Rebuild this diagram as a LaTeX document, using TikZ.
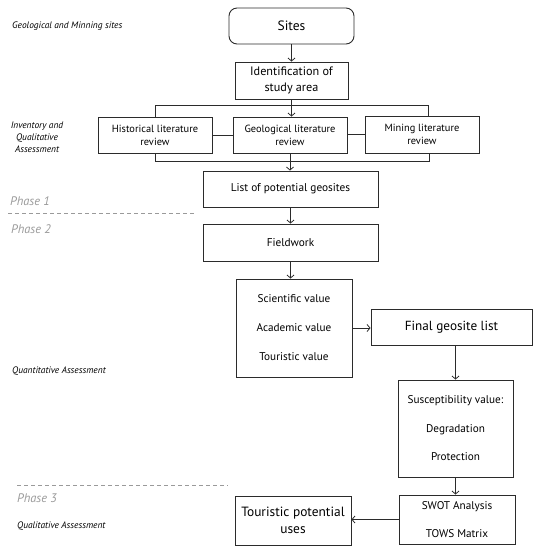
\documentclass[tikz,border=0pt]{standalone}
\usepackage{fontspec}
\setmainfont{PT Sans}
\usetikzlibrary{arrows.meta}
\definecolor{ln}{HTML}{2B2B2B}
\definecolor{ph}{HTML}{9A9A9A}
\tikzset{
  box/.style={draw=ln, line width=0.9pt, rectangle, inner sep=2pt, align=center, font=\fontsize{11.3}{14}\selectfont},
  conn/.style={draw=ln, line width=0.8pt},
  arr/.style={conn, -{Straight Barb[length=3pt,width=7pt]}},
  lab/.style={font=\itshape\fontsize{9.4}{12.2}\selectfont, anchor=west, inner sep=0pt},
  phase/.style={font=\itshape\fontsize{12.4}{14}\selectfont, text=ph, anchor=west, inner sep=0pt},
  sep/.style={draw=ph, dashed, dash pattern=on 4pt off 3pt, line width=0.6pt}
}
\begin{document}
\begin{tikzpicture}[x=1pt,y=-1pt]
\useasboundingbox (0,0) rectangle (539,550);
% boxes
\node[box, rounded corners=8pt, minimum width=125pt, minimum height=36pt, font=\fontsize{13.5}{15}\selectfont] (sites) at (291.5,26) {Sites};
\node[box, minimum width=113pt, minimum height=37pt, font=\fontsize{12.2}{16}\selectfont] (ident) at (291.5,80.5) {Identification of\\study area};
\node[box, minimum width=114pt, minimum height=36pt, font=\fontsize{10.4}{13}\selectfont] (hist) at (155,135) {Historical literature\\review};
\node[box, minimum width=114pt, minimum height=36pt, font=\fontsize{10.4}{13}\selectfont] (geol) at (290,135) {Geological literature\\review};
\node[box, minimum width=114pt, minimum height=37pt, font=\fontsize{10.4}{13}\selectfont] (mine) at (422,134.5) {Mining literature\\review};
\node[box, minimum width=175pt, minimum height=36pt] (list) at (290.5,189) {List of potential geosites};
\node[box, minimum width=175pt, minimum height=37pt] (field) at (290.5,242.5) {Fieldwork};
\node[box, minimum width=116pt, minimum height=98pt, font=\fontsize{11.2}{29}\selectfont] (vals) at (294,328) {Scientific value\\Academic value\\Touristic value};
\node[box, minimum width=161pt, minimum height=36pt, font=\fontsize{13.2}{15}\selectfont] (final) at (451.5,327) {Final geosite list};
\node[box, minimum width=115pt, minimum height=97pt, font=\fontsize{11.2}{28.5}\selectfont] (susc) at (455.5,428.5) {Susceptibility value:\\Degradation\\Protection};
\node[box, minimum width=116pt, minimum height=49pt, font=\fontsize{11.2}{28}\selectfont] (swot) at (457,519.5) {SWOT Analysis\\TOWS Matrix};
\node[box, minimum width=116pt, minimum height=49pt, font=\fontsize{13.4}{17}\selectfont] (tour) at (293,520.5) {Touristic potential\\uses};
% connectors
\draw[arr] (sites.south) -- (ident.north);
\draw[arr] (ident.south) -- (ident.south |- geol.north);
\draw[conn] (hist.north) |- ([xshift=6.5pt,yshift=10pt]mine.north) -- ([xshift=6.5pt]mine.north);
\draw[conn] (hist.east) -- (geol.west);
\draw[conn] ([yshift=1pt]geol.east) -- ([yshift=1pt]geol.east -| mine.west);
\draw[conn] (hist.south) |- ([xshift=7pt,yshift=-8pt]mine.south) -- ([xshift=7pt]mine.south);
\draw[arr] (geol.south) -- (geol.south |- list.north);
\draw[arr] (list.south) -- (field.north);
\draw[arr] (field.south) -- (field.south |- vals.north);
\draw[arr] (vals.east) -- (vals.east -| final.west);
\draw[arr] (final.south -| susc.north) -- (susc.north);
\draw[arr] (susc.south) -- (susc.south |- swot.north);
\draw[arr] (swot.west) -- (swot.west -| tour.east);
% side labels
\node[lab] (l1) at (12,26) {Geological and Minning sites};
\node[lab, anchor=center, align=center] (l2) at (37,137) {Inventory and\\Qualitative\\Assessment};
\node[phase] (p1) at (10,201) {Phase 1};
\coordinate (d1a) at (8,213);
\coordinate (d1b) at (195,213);
\draw[sep] (d1a) -- (d1b);
\node[phase] (p2) at (11,229) {Phase 2};
\node[lab] (l3) at (12,371) {Quantitative Assessment};
\coordinate (d2a) at (17,485);
\coordinate (d2b) at (228,485);
\draw[sep] (d2a) -- (d2b);
\node[phase] (p3) at (17,498) {Phase 3};
\node[lab] (l4) at (17,526) {Qualitative Assessment};
\end{tikzpicture}
\end{document}
